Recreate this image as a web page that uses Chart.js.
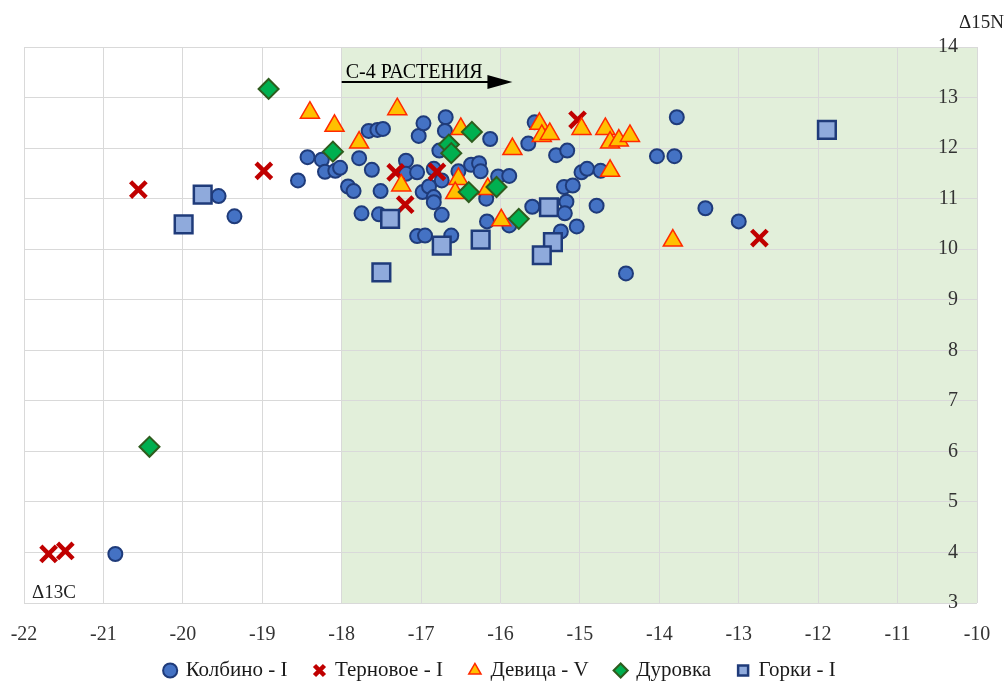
<!DOCTYPE html>
<html>
<head>
<meta charset="utf-8">
<script src="https://cdn.jsdelivr.net/npm/chart.js@4"></script>
<style>
  html, body { margin: 0; background: #fff; overflow: hidden; }
</style>
</head>
<body>
<!-- canvas is a bit taller than the window: the legend's bottom padding falls below the fold -->
<canvas id="myChart" width="1006" height="691"></canvas>
<script>
const ctx = document.getElementById('myChart').getContext('2d');

// [δ13C, δ15N]
const kolbino = [
  [-20.85, 3.97], [-19.55, 11.05], [-19.35, 10.65], [-18.43, 11.82], [-18.55, 11.36],
  [-18.25, 11.77], [-18.21, 11.53], [-18.08, 11.55], [-18.02, 11.61], [-17.78, 11.80],
  [-17.62, 11.57], [-17.92, 11.24], [-17.85, 11.15], [-17.51, 11.15], [-17.75, 10.71],
  [-17.53, 10.69], [-17.66, 12.34], [-17.55, 12.36], [-17.48, 12.38], [-17.19, 11.75],
  [-17.19, 11.49], [-17.05, 11.52], [-17.03, 12.24], [-16.97, 12.49], [-16.69, 12.61],
  [-16.70, 12.34], [-16.77, 11.95], [-16.84, 11.59], [-16.74, 11.36], [-16.98, 11.13],
  [-16.90, 11.24], [-16.84, 11.03], [-16.84, 10.93], [-16.74, 10.68], [-17.05, 10.26],
  [-16.95, 10.27], [-16.62, 10.27], [-16.53, 11.54], [-16.37, 11.67], [-16.27, 11.70],
  [-16.25, 11.54], [-16.13, 12.18], [-16.18, 11.00], [-16.17, 10.55], [-16.03, 11.44],
  [-15.89, 11.45], [-15.89, 10.47], [-15.65, 12.09], [-15.57, 12.51], [-15.30, 11.86],
  [-15.16, 11.95], [-15.60, 10.84], [-15.20, 11.23], [-15.09, 11.26], [-15.17, 10.94],
  [-15.19, 10.71], [-15.24, 10.35], [-15.04, 10.45], [-14.98, 11.52], [-14.91, 11.59],
  [-14.74, 11.55], [-14.79, 10.86], [-14.42, 9.52], [-13.78, 12.61], [-14.03, 11.84],
  [-13.81, 11.84], [-13.42, 10.81], [-13.00, 10.55]
];
const ternovoe = [
  [-21.69, 3.97], [-21.48, 4.03], [-20.56, 11.18], [-18.98, 11.55], [-17.32, 11.52],
  [-17.20, 10.88], [-16.80, 11.53], [-15.03, 12.56], [-12.74, 10.22]
];
const devitsa = [
  [-18.40, 12.70], [-18.09, 12.44], [-17.78, 12.11], [-17.30, 12.77], [-17.25, 11.26],
  [-16.50, 12.38], [-16.53, 11.39], [-16.57, 11.11], [-16.16, 11.19], [-15.99, 10.57],
  [-15.85, 11.98], [-15.51, 12.48], [-15.48, 12.24], [-15.38, 12.28], [-14.98, 12.38],
  [-14.68, 12.38], [-14.62, 12.11], [-14.51, 12.15], [-14.37, 12.24], [-14.62, 11.55],
  [-13.83, 10.17]
];
const durovka = [
  [-18.92, 13.17], [-20.42, 6.09], [-18.11, 11.93], [-16.36, 12.32], [-16.65, 12.07],
  [-16.62, 11.90], [-16.40, 11.13], [-16.05, 11.23], [-15.77, 10.60]
];
const gorki = [
  [-19.75, 11.08], [-19.99, 10.49], [-17.39, 10.60], [-17.50, 9.54], [-16.74, 10.07],
  [-16.25, 10.19], [-15.39, 10.83], [-15.34, 10.14], [-15.48, 9.88], [-11.89, 12.36]
];

const xMin = -22, xMax = -10;
const yMin = 3, yMax = 14;
const c4Start = -18;
const c4Label = 'С-4 РАСТЕНИЯ';
const arrowTo = -15.85;
const arrowY = 13.31;

const pts = (arr) => arr.map(p => ({x: p[0], y: p[1]}));
const serif = 'Liberation Serif, Times New Roman, serif';

const overlay = {
  id: 'overlay',
  beforeDraw(chart) {
    const {ctx, chartArea: a, scales: {x}} = chart;
    const x0 = x.getPixelForValue(c4Start);
    ctx.save();
    ctx.fillStyle = '#e2efda';
    ctx.fillRect(x0, a.top, a.right - x0, a.bottom - a.top);
    ctx.restore();
  },
  afterDraw(chart) {
    const {ctx, chartArea: a, scales: {x, y}} = chart;
    ctx.save();
    ctx.fillStyle = '#222';
    ctx.font = '19px ' + serif;
    ctx.textBaseline = 'alphabetic';
    // axis names
    ctx.textAlign = 'right';
    ctx.fillText('Δ15N', chart.width - 2, a.top - 19);
    ctx.textAlign = 'left';
    ctx.fillText('Δ13C', a.left + 8, a.bottom - 5);
    // C-4 arrow
    const ax0 = x.getPixelForValue(c4Start);
    const ax1 = x.getPixelForValue(arrowTo);
    const ay = y.getPixelForValue(arrowY);
    ctx.fillStyle = '#000';
    ctx.font = '20px ' + serif;
    ctx.fillText(c4Label, ax0 + 4, ay - 4);
    ctx.strokeStyle = '#000';
    ctx.lineWidth = 2;
    ctx.beginPath();
    ctx.moveTo(ax0, ay);
    ctx.lineTo(ax1 - 20, ay);
    ctx.stroke();
    ctx.beginPath();
    ctx.moveTo(ax1, ay);
    ctx.lineTo(ax1 - 25, ay - 7);
    ctx.lineTo(ax1 - 25, ay + 7);
    ctx.closePath();
    ctx.fill();
    ctx.restore();
  }
};

const myChart = new Chart(ctx, {
  type: 'scatter',
  data: {
    datasets: [{
      label: 'Колбино - I',
      data: pts(kolbino),
      order: 5,
      pointStyle: 'circle',
      pointRadius: 7,
      backgroundColor: '#4472c4',
      borderColor: '#1f3b7a',
      borderWidth: 2,
    }, {
      label: 'Терновое - I',
      data: pts(ternovoe),
      order: 4,
      pointStyle: 'crossRot',
      pointRadius: 11,
      backgroundColor: '#c00000',
      borderColor: '#c00000',
      borderWidth: 4.5,
    }, {
      label: 'Девица - V',
      data: pts(devitsa),
      order: 3,
      pointStyle: 'triangle',
      pointRadius: 11,
      backgroundColor: '#ffc000',
      borderColor: '#ff2a00',
      borderWidth: 1.5,
    }, {
      label: 'Дуровка',
      data: pts(durovka),
      order: 2,
      pointStyle: 'rectRot',
      pointRadius: 10,
      backgroundColor: '#00b050',
      borderColor: '#2e5c1e',
      borderWidth: 2,
    }, {
      label: 'Горки - I',
      data: pts(gorki),
      order: 1,
      pointStyle: 'rect',
      pointRadius: 12.5,
      backgroundColor: '#8faadc',
      borderColor: '#1f3b7a',
      borderWidth: 2.5,
    }]
  },
  options: {
    responsive: false,
    animation: false,
    events: [],
    layout: {
      padding: {top: 47, left: 24, right: 29, bottom: 0}
    },
    plugins: {
      legend: {
        display: true,
        position: 'bottom',
        labels: {
          usePointStyle: true,
          boxWidth: 10,
          boxHeight: 10,
          padding: 27,
          color: '#1a1a1a',
          font: {family: serif, size: 21},
          sort: (a, b) => a.datasetIndex - b.datasetIndex,
        }
      },
      tooltip: {enabled: false},
    },
    scales: {
      x: {
        type: 'linear',
        min: xMin,
        max: xMax,
        afterFit: (scale) => { scale.height = 30; },
        ticks: {
          stepSize: 1,
          mirror: true,
          padding: -44,
          color: '#333',
          font: {family: serif, size: 20},
        },
        grid: {color: '#d9d9d9', drawTicks: false},
        border: {display: false},
      },
      y: {
        type: 'linear',
        position: 'right',
        min: yMin,
        max: yMax,
        ticks: {
          stepSize: 1,
          mirror: true,
          padding: -19,
          color: '#333',
          font: {family: serif, size: 20},
        },
        grid: {color: '#d9d9d9', drawTicks: false},
        border: {display: false},
      }
    }
  },
  plugins: [overlay]
});
</script>
</body>
</html>
